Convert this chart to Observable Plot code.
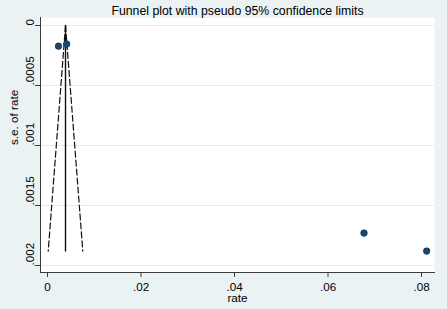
<!DOCTYPE html>
<html>
<head>
<meta charset="utf-8">
<script src="https://cdn.jsdelivr.net/npm/d3@7"></script>
<script src="https://cdn.jsdelivr.net/npm/@observablehq/plot@0.6"></script>
<style>
  html, body { margin: 0; padding: 0; background: #eaf2f3; }
  #chart svg { display: block; }
</style>
</head>
<body>
<div id="chart"></div>
<script>
// Study points
const rates = [0.00235, 0.0041, 0.0677, 0.0811];
const ses = [0.000172, 0.000155, 0.00173, 0.00188];
// Pooled estimate and pseudo 95% limits
const pooledRate = 0.00385;
const funnelSE = [0, 0.00188];
const lowerLimit = [0.00385, 0.00015];
const upperLimit = [0.00385, 0.00755];
// Ticks
const xTicks = [0, 0.02, 0.04, 0.06, 0.08];
const xTickLabels = ["0", ".02", ".04", ".06", ".08"];
const yTicks = [0, 0.0005, 0.001, 0.0015, 0.002];
const yTickLabels = ["0", ".0005", ".001", ".0015", ".002"];
const title = "Funnel plot with pseudo 95% confidence limits";
const xLabel = "rate";
const yLabel = "s.e. of rate";

const points = rates.map((r, i) => ({rate: r, se: ses[i]}));
const lower = funnelSE.map((s, i) => ({rate: lowerLimit[i], se: s}));
const upper = funnelSE.map((s, i) => ({rate: upperLimit[i], se: s}));
const center = funnelSE.map(s => ({rate: pooledRate, se: s}));

const font = "Liberation Sans, Arial, sans-serif";
const axisColor = "#3c3c3c";

const xDom = [-0.0015, 0.08278];
const yDom = [-0.0000667, 0.0020583];

const chart = Plot.plot({
  width: 447,
  height: 309,
  marginLeft: 40,
  marginRight: 13,
  marginTop: 17,
  marginBottom: 37,
  style: {background: "#eaf2f3", fontFamily: font, fontSize: "12px", color: "#000", overflow: "visible"},
  x: {domain: xDom, axis: null},
  y: {domain: yDom, reverse: true, axis: null},
  marks: [
    Plot.frame({fill: "white", stroke: "none"}),
    Plot.gridY(yTicks, {stroke: "#e3ecee", strokeOpacity: 1, strokeWidth: 1.2}),
    // funnel
    Plot.line(lower, {x: "rate", y: "se", stroke: "#111", strokeWidth: 1.2, strokeDasharray: "6,3"}),
    Plot.line(upper, {x: "rate", y: "se", stroke: "#111", strokeWidth: 1.2, strokeDasharray: "6,3"}),
    Plot.line(center, {x: "rate", y: "se", stroke: "#111", strokeWidth: 1.4}),
    // points
    Plot.dot(points, {x: "rate", y: "se", r: 3.3, fill: "#1a476f", stroke: "#0e2d4a", strokeWidth: 0.6}),
    // axes lines and ticks
    Plot.frame({anchor: "left", stroke: axisColor, strokeWidth: 1}),
    Plot.frame({anchor: "bottom", stroke: axisColor, strokeWidth: 1}),
    Plot.ruleX(xTicks, {x: d => d, y1: () => yDom[1], y2: () => yDom[1] + 0.0000417, stroke: axisColor, clip: false}),
    Plot.ruleY(yTicks, {y: d => d, x1: () => xDom[0], x2: () => xDom[0] - 0.00107, stroke: axisColor, clip: false}),
    Plot.text(xTicks, {x: d => d, frameAnchor: "bottom", dy: 10, lineAnchor: "top", text: (d, i) => xTickLabels[i], fontSize: 11.7, fill: "#000"}),
    Plot.text([xLabel], {frameAnchor: "bottom", dy: 21.5, lineAnchor: "top", text: d => d, fontSize: 11.7, fill: "#000"}),
    Plot.text(yTicks, {y: d => d, frameAnchor: "left", dx: -10, rotate: -90, text: (d, i) => yTickLabels[i], fontSize: 11.7, fill: "#000"}),
    Plot.text([yLabel], {frameAnchor: "left", dx: -26, rotate: -90, text: d => d, fontSize: 11.7, fill: "#000"}),
    Plot.text([title], {frameAnchor: "top", dy: -11, text: d => d, fontSize: 12.3, fill: "#000"})
  ]
});

document.getElementById("chart").appendChild(chart);
</script>
</body>
</html>
